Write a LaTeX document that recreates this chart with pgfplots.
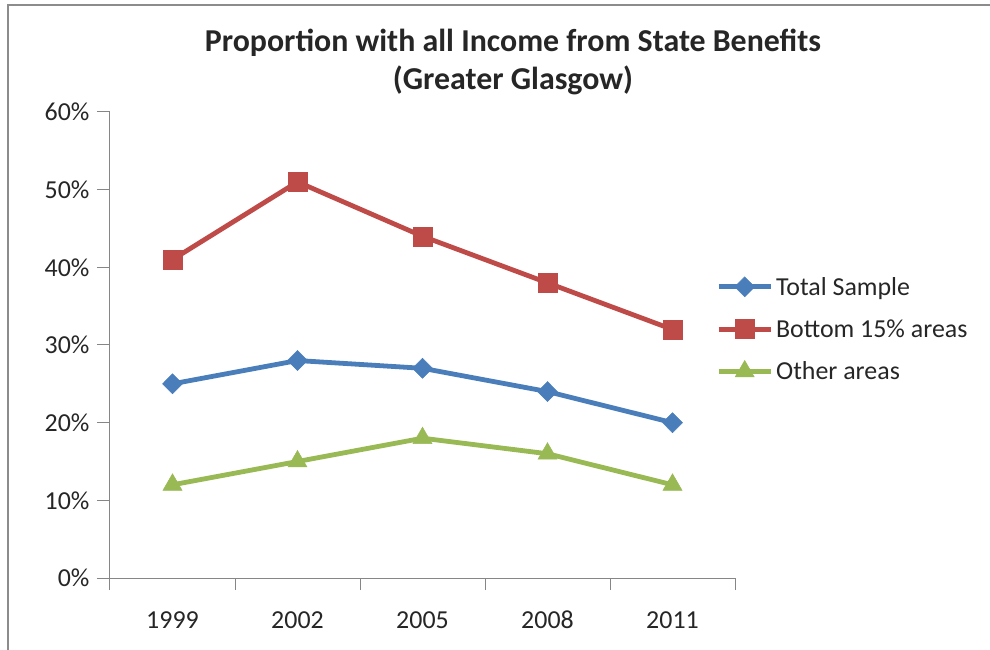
\documentclass[border=0pt]{standalone}
\usepackage{pgfplots}
\pgfplotsset{compat=1.18}
\usepackage{fontspec}
\setmainfont{Carlito}
\definecolor{cblue}{HTML}{4A7EBB}
\definecolor{cred}{HTML}{BE4B48}
\definecolor{cgreen}{HTML}{98B954}
\definecolor{axgray}{HTML}{868686}
\definecolor{framegray}{HTML}{8C8C8C}
\begin{document}
\begin{tikzpicture}
\path[use as bounding box] (0bp,0bp) rectangle (990bp,650bp);
\draw[framegray, line width=2.5bp] (8bp,0bp) -- (8bp,645bp) -- (990bp,645bp);
\node[font=\fontsize{32}{38.5}\selectfont\bfseries, align=center, text=black!85] at (513bp,588bp) {Proportion with all Income from State Benefits\\(Greater Glasgow)};
\begin{axis}[
  at={(110bp,72bp)}, anchor=south west,
  scale only axis, width=625bp, height=466bp,
  xmin=-0.5, xmax=4.5, ymin=0, ymax=60,
  axis x line=bottom, axis y line=left,
  axis line style={-, axgray, line width=1bp},
  tick style={axgray, line width=1bp},
  tick align=outside,
  xtick={0,1,2,3,4},
  xticklabels={1999,2002,2005,2008,2011},
  major x tick style={draw=none},
  minor xtick={-0.5,0.5,1.5,2.5,3.5,4.5},
  minor tick length=12bp,
  ytick={0,10,20,30,40,50,60},
  yticklabels={0\%,10\%,20\%,30\%,40\%,50\%,60\%},
  major tick length=13bp,
  ticklabel style={font=\fontsize{26}{31}\selectfont, text=black!85},
  xticklabel style={anchor=base, yshift=-37bp},
  yticklabel style={xshift=-4bp},
  clip=false,
  legend style={draw=none, fill=none, at={(rel axis cs:0.965,0.534)}, anchor=west,
    font=\fontsize{26}{31}\selectfont, text=black!85, row sep=19bp,
    nodes={inner xsep=3bp}},
  legend cell align=left,
  legend image code/.code={\draw[mark repeat=2,mark phase=2] plot coordinates {(0bp,0bp) (26bp,0bp) (52bp,0bp)};},
]
\addplot[cblue, line width=4.8bp, mark=diamond*, mark size=10bp, mark options={solid, fill=cblue, line width=0.5bp, xscale=1.33}] coordinates {(0,25) (1,28) (2,27) (3,24) (4,20)};
\addlegendentry{Total Sample}
\addplot[cred, line width=4.8bp, mark=square*, mark size=9.5bp, mark options={solid, fill=cred, line width=0.5bp}] coordinates {(0,41) (1,51) (2,44) (3,38) (4,32)};
\addlegendentry{Bottom 15\% areas}
\addplot[cgreen, line width=4.8bp, mark=triangle*, mark size=11bp, mark options={solid, fill=cgreen, line width=0.5bp}] coordinates {(0,12) (1,15) (2,18) (3,16) (4,12)};
\addlegendentry{Other areas}
\end{axis}
\end{tikzpicture}
\end{document}
